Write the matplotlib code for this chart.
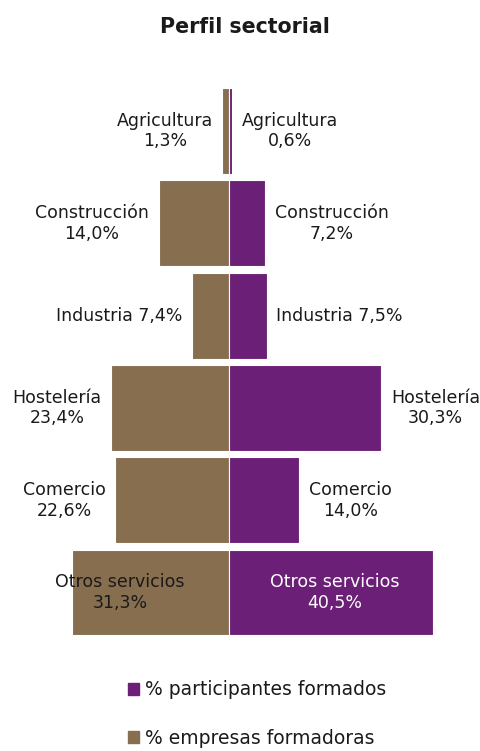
import matplotlib

matplotlib.use("Agg")

import matplotlib.pyplot as plt
from matplotlib.patches import Patch

plt.rcParams["font.family"] = ["DejaVu Sans"]

categorias = ["Agricultura", "Construcción", "Industria", "Hostelería", "Comercio", "Otros servicios"]
empresas = [1.3, 14.0, 7.4, 23.4, 22.6, 31.3]       # % empresas formadoras (left)
participantes = [0.6, 7.2, 7.5, 30.3, 14.0, 40.5]   # % participantes formados (right)
una_linea = ["Industria"]  # labels Excel kept on one line

BROWN, PURPLE, DARK = "#876E4F", "#6C1F77", "#1a1a1a"
FS = 12.5


def fmt(v):
    return f"{v:.1f}".replace(".", ",") + "%"


def label(cat, v):
    sep = " " if cat in una_linea else "\n"
    return f"{cat}{sep}{fmt(v)}"


fig = plt.figure(figsize=(4.8, 7.51), dpi=100)
ax = fig.add_axes([0, 0.1373, 1, 0.762])
ax.set_xlim(-229 / 5.03, (480 - 229) / 5.03)
ax.set_ylim(5.6, -0.6)
ax.axis("off")

y = list(range(len(categorias)))
ax.barh(y, [-v for v in empresas], height=0.93, color=BROWN, edgecolor="white", linewidth=0.8)
ax.barh(y, participantes, height=0.93, color=PURPLE, edgecolor="white", linewidth=0.8)

gap = 1.9
renderer = fig.canvas.get_renderer()
ax_box = ax.get_window_extent(renderer)
for i, (cat, e, p) in enumerate(zip(categorias, empresas, participantes)):
    # outside-end labels; pulled inside the bar when they would leave the plot
    t = ax.text(-e - gap, i, label(cat, e), ha="right", va="center", fontsize=FS,
                color=DARK, multialignment="center")
    if t.get_window_extent(renderer).x0 < ax_box.x0 - 3:
        t.set_position((-21.7, i))
        t.set_ha("center")
    t = ax.text(p + gap, i, label(cat, p), ha="left", va="center", fontsize=FS,
                color=DARK, multialignment="center")
    if t.get_window_extent(renderer).x1 > ax_box.x1 + 3:
        t.set_position((p / 2 + 0.7, i))
        t.set_ha("center")
        t.set_color("white")

fig.text(0.51, 1 - 27 / 751, "Perfil sectorial", ha="center", va="center",
         fontsize=14.8, fontweight="bold", color=DARK)

handles = [Patch(color=PURPLE, label="% participantes formados"),
           Patch(color=BROWN, label="% empresas formadoras")]
fig.legend(handles=handles, loc="center", bbox_to_anchor=(0.536, 1 - 714 / 751),
           frameon=False, fontsize=13.5, handlelength=0.6, handleheight=0.6,
           handletextpad=0.3, labelspacing=1.55, labelcolor=DARK)

fig.savefig("out.png", dpi=100)
